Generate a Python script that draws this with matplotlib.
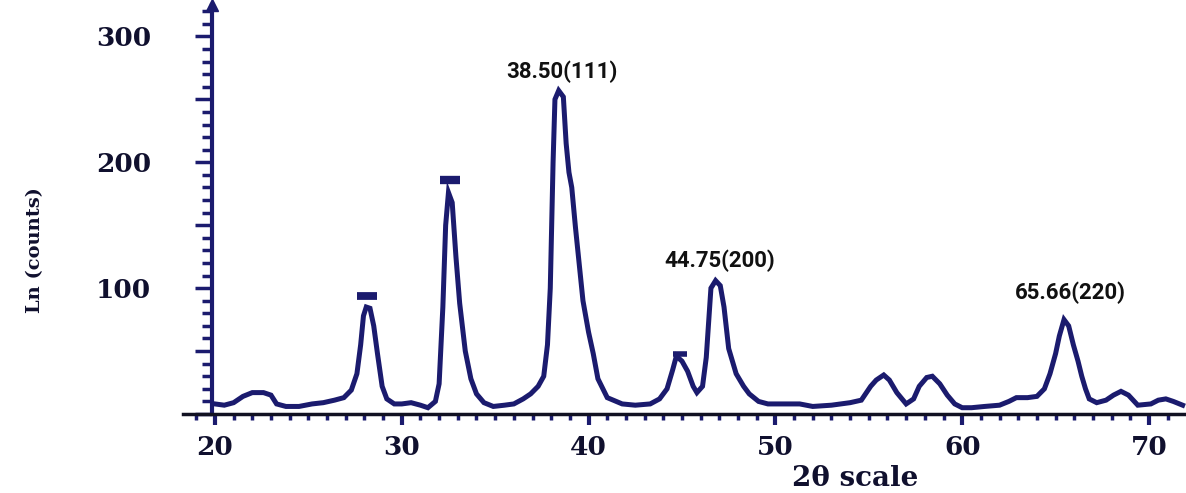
import matplotlib
matplotlib.use("Agg")
import matplotlib.pyplot as plt
from matplotlib.ticker import MultipleLocator, FuncFormatter

# XRD pattern (2theta in degrees, intensity in counts)
two_theta = [20.0, 20.5, 21.0, 21.5, 22.0, 22.6, 23.0, 23.3, 23.8, 24.5, 25.2, 25.8,
             26.4, 26.9, 27.3, 27.6, 27.8, 27.95, 28.1, 28.3, 28.5, 28.7, 28.95, 29.2,
             29.6, 30.0, 30.5, 31.0, 31.4, 31.8, 32.0, 32.2, 32.35, 32.5, 32.7, 32.9,
             33.1, 33.4, 33.7, 34.0, 34.4, 34.9, 35.5, 36.0, 36.5, 36.9, 37.3, 37.6,
             37.8, 37.95, 38.1, 38.2, 38.4, 38.65, 38.8, 38.95, 39.1, 39.3, 39.7, 40.0,
             40.25, 40.5, 41.0, 41.8, 42.5, 43.3, 43.8, 44.2, 44.5, 44.7, 45.0, 45.3,
             45.6, 45.8, 46.1, 46.3, 46.55, 46.8, 47.05, 47.25, 47.5, 47.9, 48.3, 48.6,
             49.1, 49.6, 50.5, 51.3, 52.0, 53.0, 54.0, 54.6, 55.1, 55.4, 55.8, 56.1,
             56.5, 57.0, 57.4, 57.7, 58.1, 58.4, 58.8, 59.2, 59.6, 60.0, 60.5, 61.2,
             62.0, 62.5, 62.9, 63.5, 64.0, 64.4, 64.7, 65.0, 65.2, 65.45, 65.7, 65.95,
             66.2, 66.4, 66.6, 66.8, 67.2, 67.7, 68.1, 68.5, 68.9, 69.4, 70.1, 70.5,
             70.9, 71.3, 71.8]
counts = [8, 7, 9, 14, 17, 17, 15, 8, 6, 6, 8, 9,
          11, 13, 19, 32, 55, 78, 85, 84, 70, 48, 22, 12,
          8, 8, 9, 7, 5, 10, 24, 85, 150, 176, 168, 125,
          88, 50, 28, 16, 9, 6, 7, 8, 12, 16, 22, 30,
          55, 100, 200, 250, 257, 252, 215, 192, 180, 148, 90, 65,
          48, 28, 13, 8, 7, 8, 12, 20, 35, 46, 42, 34,
          22, 17, 22, 45, 100, 106, 102, 85, 52, 32, 22, 16,
          10, 8, 8, 8, 6, 7, 9, 11, 22, 27, 31, 27,
          17, 8, 12, 22, 29, 30, 24, 15, 8, 5, 5, 6,
          7, 10, 13, 13, 14, 20, 32, 48, 62, 75, 70, 55,
          42, 30, 20, 12, 9, 11, 15, 18, 15, 7, 8, 11,
          12, 10, 7]

# small marks printed above some peaks
mark_theta = [28.15, 32.6, 44.9]
mark_counts = [94, 186, 48]
mark_sizes = [14, 15, 10]

# peak labels
peak_labels = ["38.50(111)", "44.75(200)", "65.66(220)"]
label_theta = [38.6, 47.0, 65.8]
label_counts = [272, 122, 96]

navy = "#1b1b6e"
dark = "#10102e"

fig = plt.figure(figsize=(11.86, 4.93), dpi=100)
ax = fig.add_axes([183 / 1186, 79 / 493, 1003 / 1186, 409 / 493])

ax.plot(two_theta, counts, color=navy, lw=3.6, solid_joinstyle="miter")
for mx, my, ms in zip(mark_theta, mark_counts, mark_sizes):
    ax.plot(mx, my, ls="none", marker="_", ms=ms, mew=ms * 0.4, color=navy)

for txt, xt, yt in zip(peak_labels, label_theta, label_counts):
    ax.text(xt, yt, txt, ha="center", va="center", fontsize=16,
            fontweight="bold", family="Roboto", color="#111111")

ax.set_xlim(18.29, 71.98)
ax.set_ylim(0, 325)

for s in ["top", "right"]:
    ax.spines[s].set_visible(False)
ax.spines["left"].set_position(("data", 19.84))
ax.spines["left"].set_color(navy)
ax.spines["left"].set_linewidth(3)
ax.spines["bottom"].set_color("#111122")
ax.spines["bottom"].set_linewidth(2.5)
ax.plot(19.84, 1.0, marker="^", ms=9, color=navy, clip_on=False,
        transform=ax.get_xaxis_transform())

ax.xaxis.set_major_locator(MultipleLocator(10))
ax.xaxis.set_minor_locator(MultipleLocator(1))
ax.yaxis.set_major_locator(MultipleLocator(50))
ax.yaxis.set_minor_locator(MultipleLocator(10))
ax.yaxis.set_major_formatter(FuncFormatter(
    lambda v, p: f"{int(v)}" if v > 0 and v % 100 == 0 else ""))

tick_font = dict(family="DejaVu Serif", weight="bold", size=19)
ax.tick_params(axis="x", which="major", direction="out", length=8, width=3,
               color=navy, pad=7, labelcolor=dark)
ax.tick_params(axis="x", which="minor", direction="out", length=4, width=2.5, color=navy)
ax.tick_params(axis="y", which="major", direction="out", length=12, width=2.5,
               color=navy, pad=32, labelcolor=dark)
ax.tick_params(axis="y", which="minor", direction="out", length=7, width=2.5, color=navy)
for lab in ax.get_xticklabels() + ax.get_yticklabels():
    lab.set_fontproperties(tick_font)

fig.text(35 / 1186, 1 - 250 / 493, "Ln (counts)", rotation=90, ha="center", va="center",
         family="DejaVu Serif", fontweight="bold", fontsize=14, color=dark)
fig.text(855 / 1186, 1 - 479 / 493, "2\u03b8 scale", ha="center", va="center",
         family="DejaVu Serif", fontweight="bold", fontsize=20, color=dark)

fig.savefig("out.png", dpi=100)
